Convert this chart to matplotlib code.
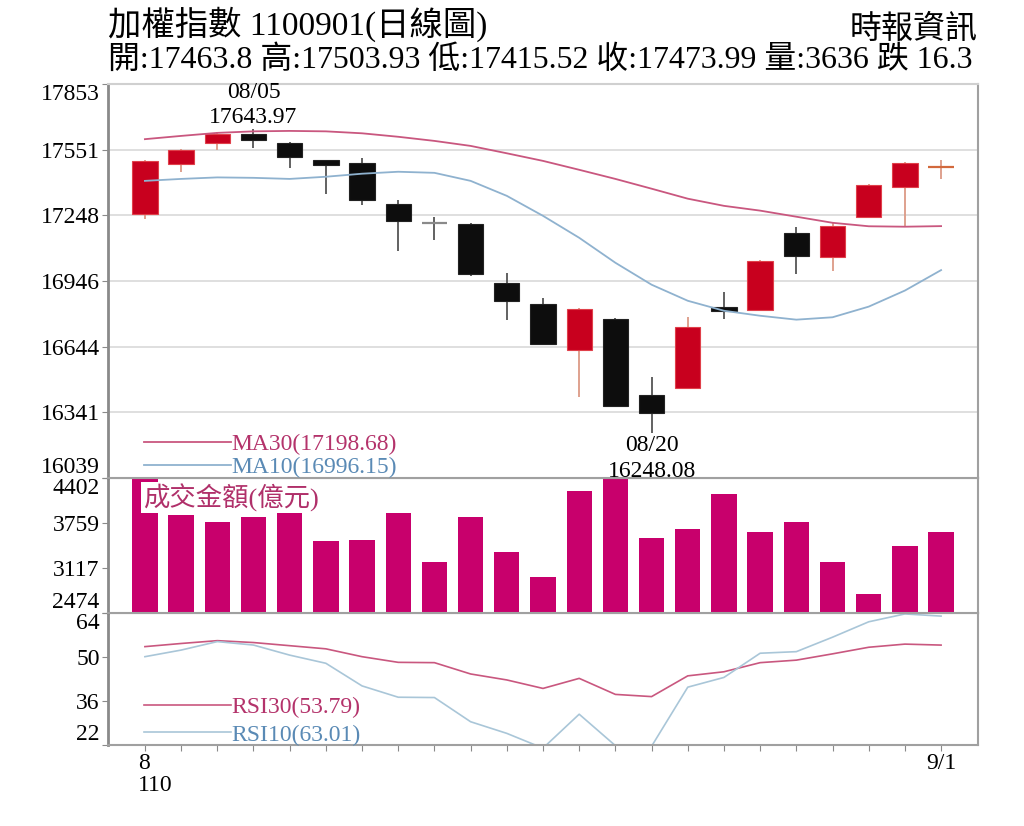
import numpy as np
import matplotlib.pyplot as plt

plt.rcParams['font.family'] = ['Liberation Serif', 'Noto Sans CJK TC', 'DejaVu Sans']

# 日線資料 (110/08/02 ~ 110/09/01)
dates = ['08/02', '08/03', '08/04', '08/05', '08/06', '08/09', '08/10', '08/11',
         '08/12', '08/13', '08/16', '08/17', '08/18', '08/19', '08/20', '08/23',
         '08/24', '08/25', '08/26', '08/27', '08/30', '08/31', '09/01']
opens = [17254, 17484, 17583, 17622, 17583, 17502, 17487, 17300, 17215, 17208, 16937, 16838,
         16629, 16772, 16423, 16455, 16825, 16813, 17167, 17055, 17239, 17380, 17463.8]
highs = [17502, 17552, 17630, 17643.97, 17586, 17504, 17514, 17319, 17239, 17212, 16981, 16868,
         16820, 16775, 16504, 16779, 16894, 17043, 17193, 17216, 17392, 17492, 17503.93]
lows = [17231, 17450, 17548, 17560, 17466, 17346, 17297, 17082, 17135, 16971, 16767, 16655,
        16412, 16365, 16248.08, 16450, 16772, 16810, 16979, 16991, 17236, 17196, 17415.52]
closes = [17499, 17548, 17622, 17594, 17518, 17481, 17319, 17224, 17212, 16979, 16853, 16657,
          16818, 16369, 16338, 16733, 16810, 17040, 17063, 17201, 17388, 17490.29, 17473.99]
ma30 = [17599, 17614, 17628, 17635, 17637, 17635, 17626, 17610, 17591, 17568, 17534, 17499,
        17458, 17416, 17371, 17325, 17292, 17270, 17242, 17214, 17198, 17196, 17198.68]
ma10 = [17407, 17416, 17423, 17421, 17416, 17426, 17440, 17449, 17444, 17407, 17338, 17246,
        17145, 17030, 16929, 16855, 16809, 16786, 16768, 16779, 16828, 16902, 16996.15]
volume = [4392, 3874, 3778, 3849, 3955, 3502, 3517, 3898, 3207, 3849, 3341, 2992,
          4221, 4395, 3541, 3669, 4169, 3635, 3769, 3198, 2745, 3435, 3636]
rsi30 = [53.3, 54.3, 55.2, 54.6, 53.6, 52.6, 50.1, 48.3, 48.2, 44.6, 42.7, 40.0,
         43.2, 38.1, 37.4, 44.0, 45.3, 48.2, 49.0, 51.0, 53.1, 54.1, 53.79]
rsi10 = [50.1, 52.2, 54.9, 53.8, 50.6, 48.0, 40.8, 37.2, 37.1, 29.4, 25.7, 21.0,
         31.8, 21.8, 21.6, 40.4, 43.5, 51.2, 51.7, 56.3, 61.2, 63.7, 63.01]

price_ticks = [16039, 16341, 16644, 16946, 17248, 17551, 17853]
vol_ticks = [2474, 3117, 3759, 4402]
rsi_ticks = [22, 36, 50, 64]

title = '加權指數 1100901(日線圖)'
subtitle = '開:17463.8 高:17503.93 低:17415.52 收:17473.99 量:3636 跌 16.3'
source = '時報資訊'

RED = '#c8001e'
BLACK = '#0d0d0d'
MAG = '#c8006c'
MA30_C = '#c9577f'
MA10_C = '#8fb2cf'
GRID = '#dcdcdc'
SPINE = '#a0a0a0'

x = np.arange(len(dates))

fig = plt.figure(figsize=(10.24, 8.26), dpi=100)
L, W = 108 / 1024, 870 / 1024
fy = lambda px: 1 - px / 826
ax_p = fig.add_axes([L, fy(478), W, fy(84) - fy(478)], zorder=3)
ax_v = fig.add_axes([L, fy(613), W, fy(478) - fy(613)], sharex=ax_p, zorder=2)
ax_r = fig.add_axes([L, fy(745), W, fy(613) - fy(745)], sharex=ax_p, zorder=1)

for ax in (ax_p, ax_v, ax_r):
    for s in ax.spines.values():
        s.set_color(SPINE)
        s.set_linewidth(1.5)
    ax.spines['left'].set_color('#8a8a8a')
    ax.spines['left'].set_linewidth(2)
    ax.tick_params(axis='y', length=4, color='#8a8a8a', labelsize=17, pad=2)
    ax.tick_params(axis='x', bottom=False, labelbottom=False)
ax_p.spines['top'].set_color('#d0d0d0')

# --- K線 ---
for i in x:
    o, h, l, c = opens[i], highs[i], lows[i], closes[i]
    up = c > o
    wick_c = '#dc9a86' if up else '#555555'
    ax_p.vlines(i, l, h, color=wick_c, lw=1.3, zorder=2)
    if abs(c - o) < 12:
        ax_p.hlines((o + c) / 2, i - 0.35, i + 0.35, color='#d2693c' if up else '#8a8a8a', lw=1.6, zorder=3)
    else:
        ax_p.bar(i, abs(c - o), bottom=min(o, c), width=0.7,
                 color=RED if up else BLACK, edgecolor='#e0404a' if up else '#222222',
                 lw=0.8, zorder=3)

ax_p.plot(x, ma30, color=MA30_C, lw=1.3, zorder=4, label='MA30(17198.68)')
ax_p.plot(x, ma10, color=MA10_C, lw=1.3, zorder=4, label='MA10(16996.15)')
ax_p.set_ylim(price_ticks[0], price_ticks[-1])
ax_p.set_yticks(price_ticks, [str(t) for t in price_ticks])
ax_p.grid(axis='y', color=GRID, lw=1.3)
ax_p.set_axisbelow(True)

ax_p.legend(loc='lower left', bbox_to_anchor=(0.041, -0.0), frameon=False,
            fontsize=17, handlelength=3.7, handletextpad=0.0, borderpad=0,
            borderaxespad=0, labelspacing=0.05, labelcolor=['#b4336b', '#5a8ab5'])

hi_i = int(np.argmax(highs))
lo_i = int(np.argmin(lows))
ax_p.annotate(f'{dates[hi_i]}\n{highs[hi_i]:.2f}', (hi_i, highs[hi_i]), xytext=(0, 1),
              textcoords='offset points', ha='center', va='bottom', fontsize=17,
              linespacing=1.25, annotation_clip=False, zorder=6)
ax_p.annotate(f'{dates[lo_i]}\n{lows[lo_i]:.2f}', (lo_i, lows[lo_i]), xytext=(0, -2),
              textcoords='offset points', ha='center', va='top', fontsize=17,
              linespacing=1.3, annotation_clip=False, zorder=6)

# --- 成交金額 ---
ax_v.bar(x, volume, width=0.7, color=MAG, zorder=2)
ax_v.set_ylim(vol_ticks[0], vol_ticks[-1])
ax_v.set_yticks(vol_ticks, [str(t) for t in vol_ticks])
ax_v.text(0.04, 0.96, '成交金額(億元)', transform=ax_v.transAxes, fontsize=19,
          color='#b0306a', ha='left', va='top', zorder=5,
          bbox=dict(facecolor='white', edgecolor='none', pad=1))

# --- RSI ---
ax_r.plot(x, rsi30, color=MA30_C, lw=1.2, label='RSI30(53.79)')
ax_r.plot(x, rsi10, color='#a9c6d8', lw=1.2, label='RSI10(63.01)')
ax_r.set_ylim(rsi_ticks[0], rsi_ticks[-1])
ax_r.set_yticks(rsi_ticks, [str(t) for t in rsi_ticks])
ax_r.legend(loc='lower left', bbox_to_anchor=(0.041, -0.005), frameon=False,
            fontsize=17, handlelength=3.7, handletextpad=0.0, borderpad=0,
            borderaxespad=0, labelspacing=0.25, labelcolor=['#b4336b', '#5a8ab5'])
ax_r.set_xticks(x)
ax_r.tick_params(axis='x', bottom=True, length=4, color='#8a8a8a', labelbottom=False)
ax_r.set_xlim(-1.02, len(dates) + 0.02)
ax_r.text(-0.19, -0.06, '8\n110', transform=ax_r.get_xaxis_transform(), ha='left', va='top',
          fontsize=17, linespacing=1.05)
ax_r.text(x[-1], -0.06, '9/1', transform=ax_r.get_xaxis_transform(), ha='center', va='top',
          fontsize=17)

# y軸標籤：頂端與底端向內對齊
for ax in (ax_p, ax_v, ax_r):
    labels = ax.get_yticklabels()
    labels[0].set_va('bottom')
    labels[-1].set_va('top')
    if ax is ax_p:
        for lbl in labels[1:-1]:
            lbl.set_va('center_baseline')

fig.text(L, fy(24), title, fontsize=24, ha='left', va='center')
fig.text(L, fy(60), subtitle, fontsize=22.95, ha='left', va='center')
fig.text(L + W, fy(30), source, fontsize=23, ha='right', va='center')

fig.savefig('out.png', dpi=100, facecolor='white')
